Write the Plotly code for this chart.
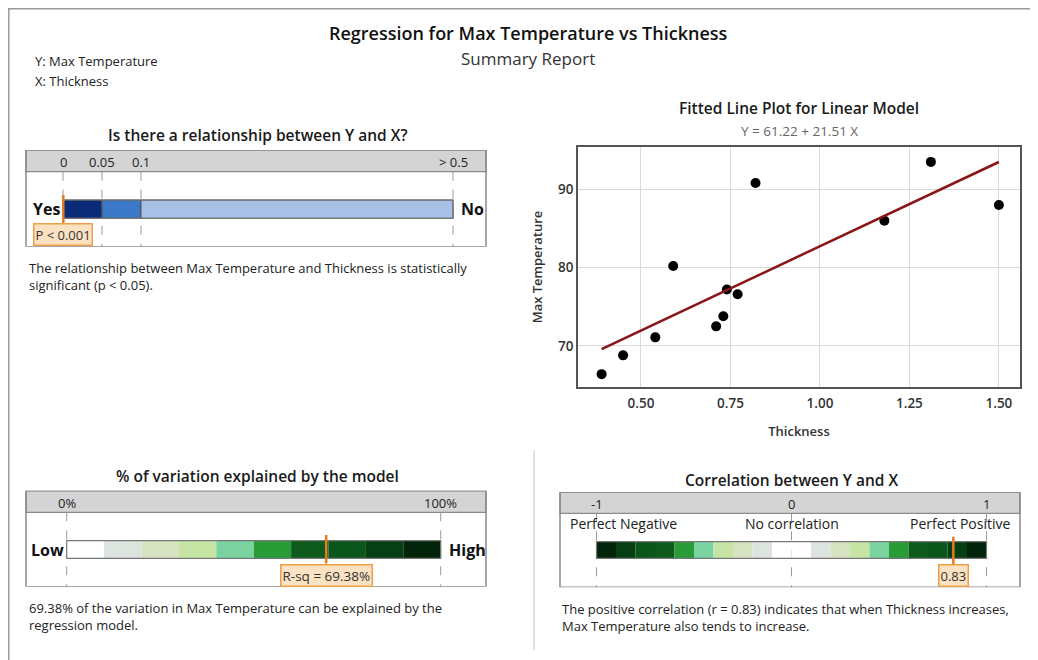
import plotly.graph_objects as go

OFF = 8                      # page body margin of the browser
W, H = 1038 - OFF, 660 - OFF

# ---------------- data ----------------
thickness = [0.39, 0.45, 0.54, 0.59, 0.71, 0.73, 0.74, 0.77, 0.82, 1.18, 1.31, 1.50]
max_temp = [66.4, 68.8, 71.1, 80.2, 72.5, 73.8, 77.2, 76.6, 90.8, 86.0, 93.5, 88.0]
intercept = 61.22
slope = 21.51

p_value = 0.0004          # reported as P < 0.001
p_cuts = [0, 0.05, 0.1, 0.5]
p_cut_labels = ["0", "0.05", "0.1", "> 0.5"]
p_colors = ["#0b2a78", "#3b78c8", "#a6c1e5"]

r_sq = 69.38
r_sq_cuts = [0, 10, 20, 30, 40, 50, 60, 70, 80, 90, 100]
r_sq_tick_vals = [0, 100]
r_sq_tick_labels = ["0%", "100%"]

r = 0.83
corr_tick_vals = [-1, 0, 1]
corr_tick_labels = ["-1", "0", "1"]
corr_zone_labels = ["Perfect Negative", "No correlation", "Perfect Positive"]

green_colors = ["#ffffff", "#dde3df", "#d5e3c0", "#c6e5a4", "#7ad3a0",
                "#2a9c37", "#0c5b1d", "#0b561b", "#063f14", "#02240a"]

FONT = "Open Sans"
TXT = "#222222"


def px(x):
    return (x - OFF) / W


def py(y):
    return 1 - (y - OFF) / H


fig = go.Figure()
shapes = []
annotations = []


def ptext(text, x, y, size, color=TXT, weight=400, xanchor="center", yanchor="middle", **kw):
    annotations.append(dict(text=text, x=px(x), y=py(y), xref="paper", yref="paper",
                            showarrow=False, xanchor=xanchor, yanchor=yanchor,
                            font=dict(family=FONT, size=size, color=color, weight=weight), **kw))


# ---------------- scatter panel ----------------
fig.add_trace(go.Scatter(
    x=thickness, y=max_temp, mode="markers",
    marker=dict(color="black", size=10),
    xaxis="x", yaxis="y", showlegend=False, hoverinfo="x+y"))
xfit = [min(thickness), max(thickness)]
yfit = [intercept + slope * v for v in xfit]
fig.add_trace(go.Scatter(
    x=xfit, y=yfit, mode="lines",
    line=dict(color="#8b1414", width=2.5),
    xaxis="x", yaxis="y", showlegend=False, hoverinfo="skip"))

sc_l, sc_r, sc_t, sc_b = 578, 1020, 147, 387
layout_axes = dict(
    xaxis=dict(domain=[px(sc_l), px(sc_r)], range=[0.324, 1.559],
               tickvals=[0.5, 0.75, 1.0, 1.25, 1.5],
               ticktext=["0.50", "0.75", "1.00", "1.25", "1.50"],
               showgrid=True, gridcolor="#dadada", gridwidth=1,
               showline=True, mirror=True, linecolor="#555555", linewidth=1.5,
               zeroline=False, ticks="", anchor="y", ticklabelstandoff=3,
               tickfont=dict(family=FONT, size=13.5, color="#333333", weight=600),
               title=dict(text="Thickness", standoff=16,
                          font=dict(family=FONT, size=13, color="#333333", weight=600))),
    yaxis=dict(domain=[py(sc_b), py(sc_t)], range=[64.76, 95.4],
               tickvals=[70, 80, 90],
               showgrid=True, gridcolor="#dadada", gridwidth=1,
               showline=True, mirror=True, linecolor="#555555", linewidth=1.5,
               zeroline=False, ticks="", anchor="x",
               tickfont=dict(family=FONT, size=13.5, color="#333333", weight=600),
               title=dict(text="Max Temperature", standoff=13,
                          font=dict(family=FONT, size=13, color="#333333", weight=600))),
)

ptext("Fitted Line Plot for Linear Model", 799, 108, 15.5, "#1a1a1a", 600)
ptext(f"Y = {intercept:.2f} + {slope:.2f} X", 799, 131, 13.5, "#666666")


# ---------------- gauge panels ----------------
def make_panel(n, left, right, top, head_bot, bottom, v0, v0px, v1, v1px):
    scale = (v1px - v0px) / (v1 - v0)
    xr = [v0 + (left - v0px) / scale, v0 + (right - v0px) / scale]
    layout_axes[f"xaxis{n}"] = dict(domain=[px(left), px(right)], range=xr,
                                    visible=False, anchor=f"y{n}", fixedrange=True)
    layout_axes[f"yaxis{n}"] = dict(domain=[py(bottom), py(top)], range=[bottom - top, 0],
                                    visible=False, anchor=f"x{n}", fixedrange=True)
    xa, ya = f"x{n}", f"y{n}"
    shapes.append(dict(type="rect", xref="paper", yref=ya, x0=px(left), x1=px(right),
                       y0=0, y1=head_bot - top, fillcolor="#d4d4d4",
                       line=dict(color="#8a8a8a", width=1.2), layer="below"))
    shapes.append(dict(type="rect", xref="paper", yref=ya, x0=px(left), x1=px(right),
                       y0=0, y1=bottom - top, fillcolor="rgba(0,0,0,0)",
                       line=dict(color="#8a8a8a", width=1.5), layer="above"))
    return xa, ya, head_bot - top, bottom - top


def dashed(xa, ya, vals, y0, y1):
    for v in vals:
        shapes.append(dict(type="line", xref=xa, yref=ya, x0=v, x1=v, y0=y0, y1=y1,
                           line=dict(color="#9a9a9a", width=1, dash="dash"), layer="below"))


def dtext(xa, ya, text, x, y, size, color=TXT, weight=400, xanchor="center",
          yanchor="middle", **kw):
    annotations.append(dict(text=text, x=x, y=y, xref=xa, yref=ya, showarrow=False,
                            xanchor=xanchor, yanchor=yanchor,
                            font=dict(family=FONT, size=size, color=color, weight=weight), **kw))


def head_labels(xa, ya, vals, labels, yc):
    for v, t in zip(vals, labels):
        dtext(xa, ya, t, v, yc, 13)


def marker(xa, ya, v, y0, y1, label, size):
    shapes.append(dict(type="line", xref=xa, yref=ya, x0=v, x1=v, y0=y0, y1=y1,
                       line=dict(color="#e57c1f", width=2.5), layer="above"))
    dtext(xa, ya, label, v, y1, size, "#333333", yanchor="top",
          bgcolor="#fbe2c2", bordercolor="#eea048", borderwidth=1.5, borderpad=1)


def seg_bar(xa, ya, starts, ends, colors, yc, h, seg_line):
    fig.add_trace(go.Bar(
        orientation="h", y=[yc] * len(starts),
        x=[e - s for s, e in zip(starts, ends)], base=starts, width=h,
        marker=dict(color=colors, line=dict(color=seg_line, width=1 if seg_line else 0)),
        xaxis=xa, yaxis=ya, showlegend=False, hoverinfo="skip"))
    shapes.append(dict(type="rect", xref=xa, yref=ya, x0=starts[0], x1=ends[-1],
                       y0=yc - h / 2, y1=yc + h / 2, fillcolor="rgba(0,0,0,0)",
                       line=dict(color="#777777", width=1.2), layer="above"))


def bold_side(xa, ya, v, yc, text, anchor, shift):
    dtext(xa, ya, text, v, yc, 16, "#111111", 700, xanchor=anchor, xshift=shift)


# --- p-value panel
top = 150
xa, ya, hb, bb = make_panel(2, 26, 486, top, 171.7, 246.7, 0, 63, 0.5, 453)
dashed(xa, ya, p_cuts, hb, bb)
head_labels(xa, ya, p_cuts, p_cut_labels, hb / 2 + 1)
bar_c = (200 + 218.3) / 2 - top
seg_bar(xa, ya, p_cuts[:-1], p_cuts[1:], p_colors, bar_c, 18.3, "#555555")
marker(xa, ya, p_value, 195 - top, 223.5 - top, "P < 0.001", 13)
bold_side(xa, ya, 0, bar_c, "Yes", "right", -1)
bold_side(xa, ya, p_cuts[-1], bar_c, "No", "left", 6)
ptext("Is there a relationship between Y and X?", 257, 135, 15.5, "#1a1a1a", 600)
ptext("The relationship between Max Temperature and Thickness is statistically<br>"
      "significant (p < 0.05).", 27, 257, 13, xanchor="left", yanchor="top", align="left")

# --- R-sq panel
top = 490.7
xa, ya, hb, bb = make_panel(3, 26, 486, top, 512.3, 586.7, 0, 66.7, 100, 440.7)
dashed(xa, ya, r_sq_tick_vals, hb, bb)
head_labels(xa, ya, r_sq_tick_vals, r_sq_tick_labels, hb / 2 + 1)
bar_c = (540.7 + 558.3) / 2 - top
seg_bar(xa, ya, r_sq_cuts[:-1], r_sq_cuts[1:], green_colors, bar_c, 17.6, None)
marker(xa, ya, r_sq, 535 - top, 563.5 - top, f"R-sq = {r_sq:.2f}%", 13.5)
bold_side(xa, ya, 0, bar_c, "Low", "right", -1)
bold_side(xa, ya, 100, bar_c, "High", "left", 6)
ptext("% of variation explained by the model", 257, 476, 15.5, "#1a1a1a", 600)
ptext(f"{r_sq:.2f}% of the variation in Max Temperature can be explained by the<br>"
      "regression model.", 27, 597, 13, xanchor="left", yanchor="top", align="left")

# --- correlation panel
top = 492.3
xa, ya, hb, bb = make_panel(4, 560, 1020, top, 513.3, 587.3, -1, 596.5, 1, 986.5)
dashed(xa, ya, corr_tick_vals, hb, bb)
head_labels(xa, ya, corr_tick_vals, corr_tick_labels, hb / 2 + 1)
abs_cuts = [c / 100 for c in r_sq_cuts]
c_starts = [-e for e in abs_cuts[:0:-1]] + abs_cuts[:-1]
c_ends = [-s for s in abs_cuts[-2::-1]] + abs_cuts[1:]
c_cols = green_colors[::-1] + green_colors
bar_c = (541.7 + 558.3) / 2 - top
seg_bar(xa, ya, c_starts, c_ends, c_cols, bar_c, 16.6, None)
marker(xa, ya, r, 536.7 - top, 564 - top, f"{r:.2f}", 13)
zl_y = 523.3 - top
dtext(xa, ya, corr_zone_labels[0], -1, zl_y, 14, xanchor="left", xshift=-29)
dtext(xa, ya, corr_zone_labels[1], 0, zl_y, 14)
dtext(xa, ya, corr_zone_labels[2], 1, zl_y, 14, xanchor="right", xshift=25)
ptext("Correlation between Y and X", 791, 480, 15.5, "#1a1a1a", 600)
ptext(f"The positive correlation (r = {r:.2f}) indicates that when Thickness increases,<br>"
      "Max Temperature also tends to increase.", 560, 598, 13,
      xanchor="left", yanchor="top", align="left")

# ---------------- report header ----------------
ptext("Regression for Max Temperature vs Thickness", 528, 33, 18, "#111111", 600)
ptext("Summary Report", 528, 58, 17, "#333333")
ptext("Y: Max Temperature", 33, 61, 13, xanchor="left")
ptext("X: Thickness", 33, 81, 13, xanchor="left")

# frame lines
shapes.append(dict(type="line", xref="paper", yref="paper", x0=0, x1=1, y0=py(8.8), y1=py(8.8),
                   line=dict(color="#9a9a9a", width=1.5)))
shapes.append(dict(type="line", xref="paper", yref="paper", x0=px(8.8), x1=px(8.8),
                   y0=py(8.8), y1=0, line=dict(color="#9a9a9a", width=1.5)))
shapes.append(dict(type="line", xref="paper", yref="paper", x0=px(534), x1=px(534),
                   y0=py(450), y1=py(650), line=dict(color="#cfcfcf", width=1.2)))

fig.update_layout(
    width=W, height=H, margin=dict(l=0, r=0, t=0, b=0),
    paper_bgcolor="white", plot_bgcolor="white",
    barmode="overlay", shapes=shapes, annotations=annotations,
    font=dict(family=FONT, color=TXT), showlegend=False,
    **layout_axes)

fig.write_html("out.html")
